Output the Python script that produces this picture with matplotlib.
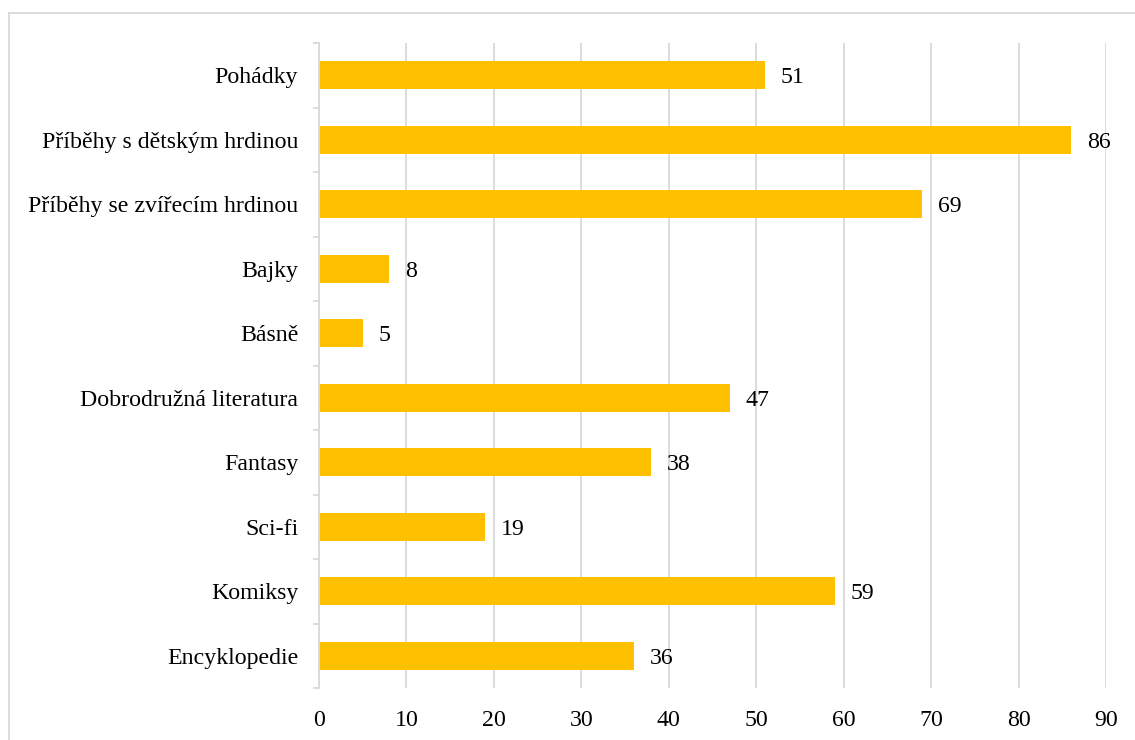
import matplotlib
matplotlib.use("Agg")
import matplotlib.pyplot as plt
from matplotlib.patches import Rectangle
import numpy as np

categories = ["Pohádky", "Příběhy s dětským hrdinou", "Příběhy se zvířecím hrdinou",
              "Bajky", "Básně", "Dobrodružná literatura", "Fantasy", "Sci-fi",
              "Komiksy", "Encyklopedie"]
values = [51, 86, 69, 8, 5, 47, 38, 19, 59, 36]
xticks = [0, 10, 20, 30, 40, 50, 60, 70, 80, 90]

plt.rcParams['font.family'] = ['Liberation Serif', 'DejaVu Serif']
FS = 17.2
fig = plt.figure(figsize=(11.35, 7.4), dpi=100)
W, H = 1135, 740
ax = fig.add_axes([319 / W, 1 - 688 / H, (1106 - 319) / W, (688 - 43) / H])

fig.patches.append(Rectangle((9 / W, -0.1), 1.2, 1 - 13 / H + 0.1, transform=fig.transFigure,
                             fill=False, edgecolor='#D9D9D9', linewidth=1.3))

n = len(categories)
y = np.arange(n)
ax.barh(y, values, height=0.43, color='#FFC000', zorder=3)
for yi, v in zip(y, values):
    ax.annotate(str(v), (v, yi), xytext=(16, 0), textcoords='offset pixels',
                va='center_baseline', ha='left', fontsize=FS, color='black')

ax.set_ylim(n - 0.5, -0.5)
ax.set_xlim(0, 90)
ax.set_yticks(y)
ax.set_yticklabels(categories, fontsize=FS)
for lbl in ax.get_yticklabels():
    lbl.set_va('center_baseline')
ax.set_yticks(np.arange(-0.5, n, 1), minor=True)
ax.tick_params(axis='y', which='major', length=0, pad=15)
ax.tick_params(axis='y', which='minor', length=4, color='#D9D9D9', width=1.3)
ax.set_xticks(xticks)
ax.set_xticklabels([str(t) for t in xticks], fontsize=FS)
ax.tick_params(axis='x', length=0, pad=16)
ax.grid(axis='x', color='#D9D9D9', linewidth=1.3, zorder=0)
for s in ['top', 'right', 'bottom']:
    ax.spines[s].set_visible(False)
ax.spines['left'].set_color('#D9D9D9')
ax.spines['left'].set_linewidth(1.3)
ax.spines['left'].set_zorder(4)

fig.savefig('out.png', dpi=100)
